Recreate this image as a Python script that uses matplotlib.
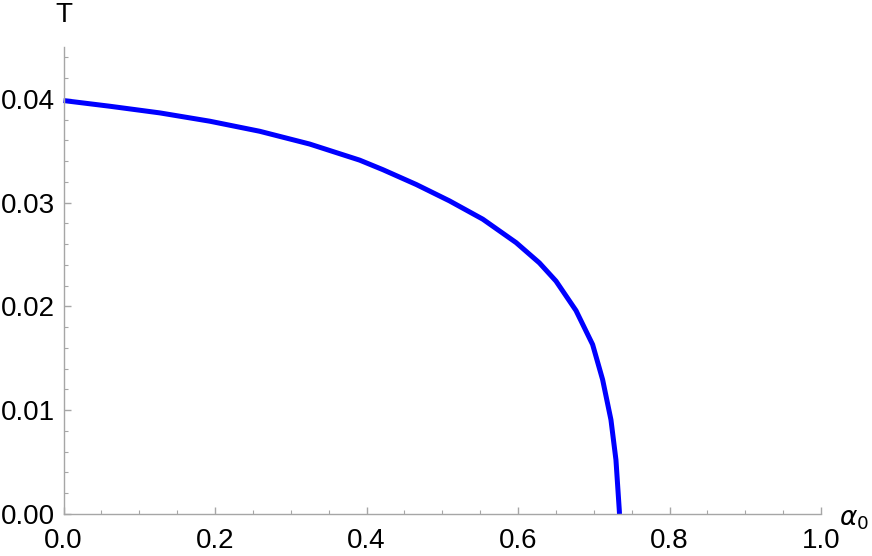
import matplotlib
matplotlib.use('Agg')
import matplotlib.pyplot as plt
from matplotlib.ticker import MultipleLocator, FormatStrFormatter

plt.rcParams['font.family'] = ['Liberation Sans', 'DejaVu Sans']
plt.rcParams['mathtext.fontset'] = 'dejavusans'

# values
alpha0 = [0.0, 0.0613, 0.1272, 0.1931, 0.259, 0.3249, 0.3909, 0.4216,
          0.4657, 0.5096, 0.5535, 0.5975, 0.6282, 0.6502, 0.6766, 0.6985,
          0.7117, 0.7227, 0.7293, 0.7337, 0.734]
temp = [0.03984, 0.03929, 0.03865, 0.03785, 0.03688, 0.03565, 0.03410,
        0.03318, 0.03175, 0.03017, 0.02841, 0.02615, 0.02420, 0.02244,
        0.01960, 0.01633, 0.01295, 0.00908, 0.00522, 0.00039, 0.0]

fig = plt.figure(figsize=(8.72, 5.56), dpi=100)
ax = fig.add_axes([63.5 / 872, 1 - 514 / 556, (821 - 63.5) / 872, (514 - 47) / 556])

ax.plot(alpha0, temp, color='#0000ff', lw=3.6, solid_capstyle='butt',
        solid_joinstyle='round', clip_on=False)

ax.set_xlim(0, 1.0)
ax.set_ylim(0, 0.045)

ax.xaxis.set_major_locator(MultipleLocator(0.2))
ax.xaxis.set_minor_locator(MultipleLocator(0.05))
ax.yaxis.set_major_locator(MultipleLocator(0.01))
ax.yaxis.set_minor_locator(MultipleLocator(0.002))
ax.xaxis.set_major_formatter(FormatStrFormatter('%.1f'))
ax.yaxis.set_major_formatter(FormatStrFormatter('%.2f'))

gray = '#a6a6a6'
for s in ['top', 'right']:
    ax.spines[s].set_visible(False)
for s in ['left', 'bottom']:
    ax.spines[s].set_color(gray)
    ax.spines[s].set_linewidth(1.0)

ax.tick_params(which='both', direction='in', color=gray, labelsize=20)
ax.tick_params(which='major', length=5, width=1.0)
ax.tick_params(which='minor', length=3, width=0.8)
ax.tick_params(axis='x', pad=10)
ax.tick_params(axis='y', pad=6)

fig.text(63.5 / 872, 1 - 15.5 / 556, 'T', fontsize=20, ha='center', va='center')
fig.text(839 / 872, 1 - 520 / 556, r'$\alpha_0$', fontsize=19, ha='left', va='center')

fig.savefig('out.png', dpi=100)
